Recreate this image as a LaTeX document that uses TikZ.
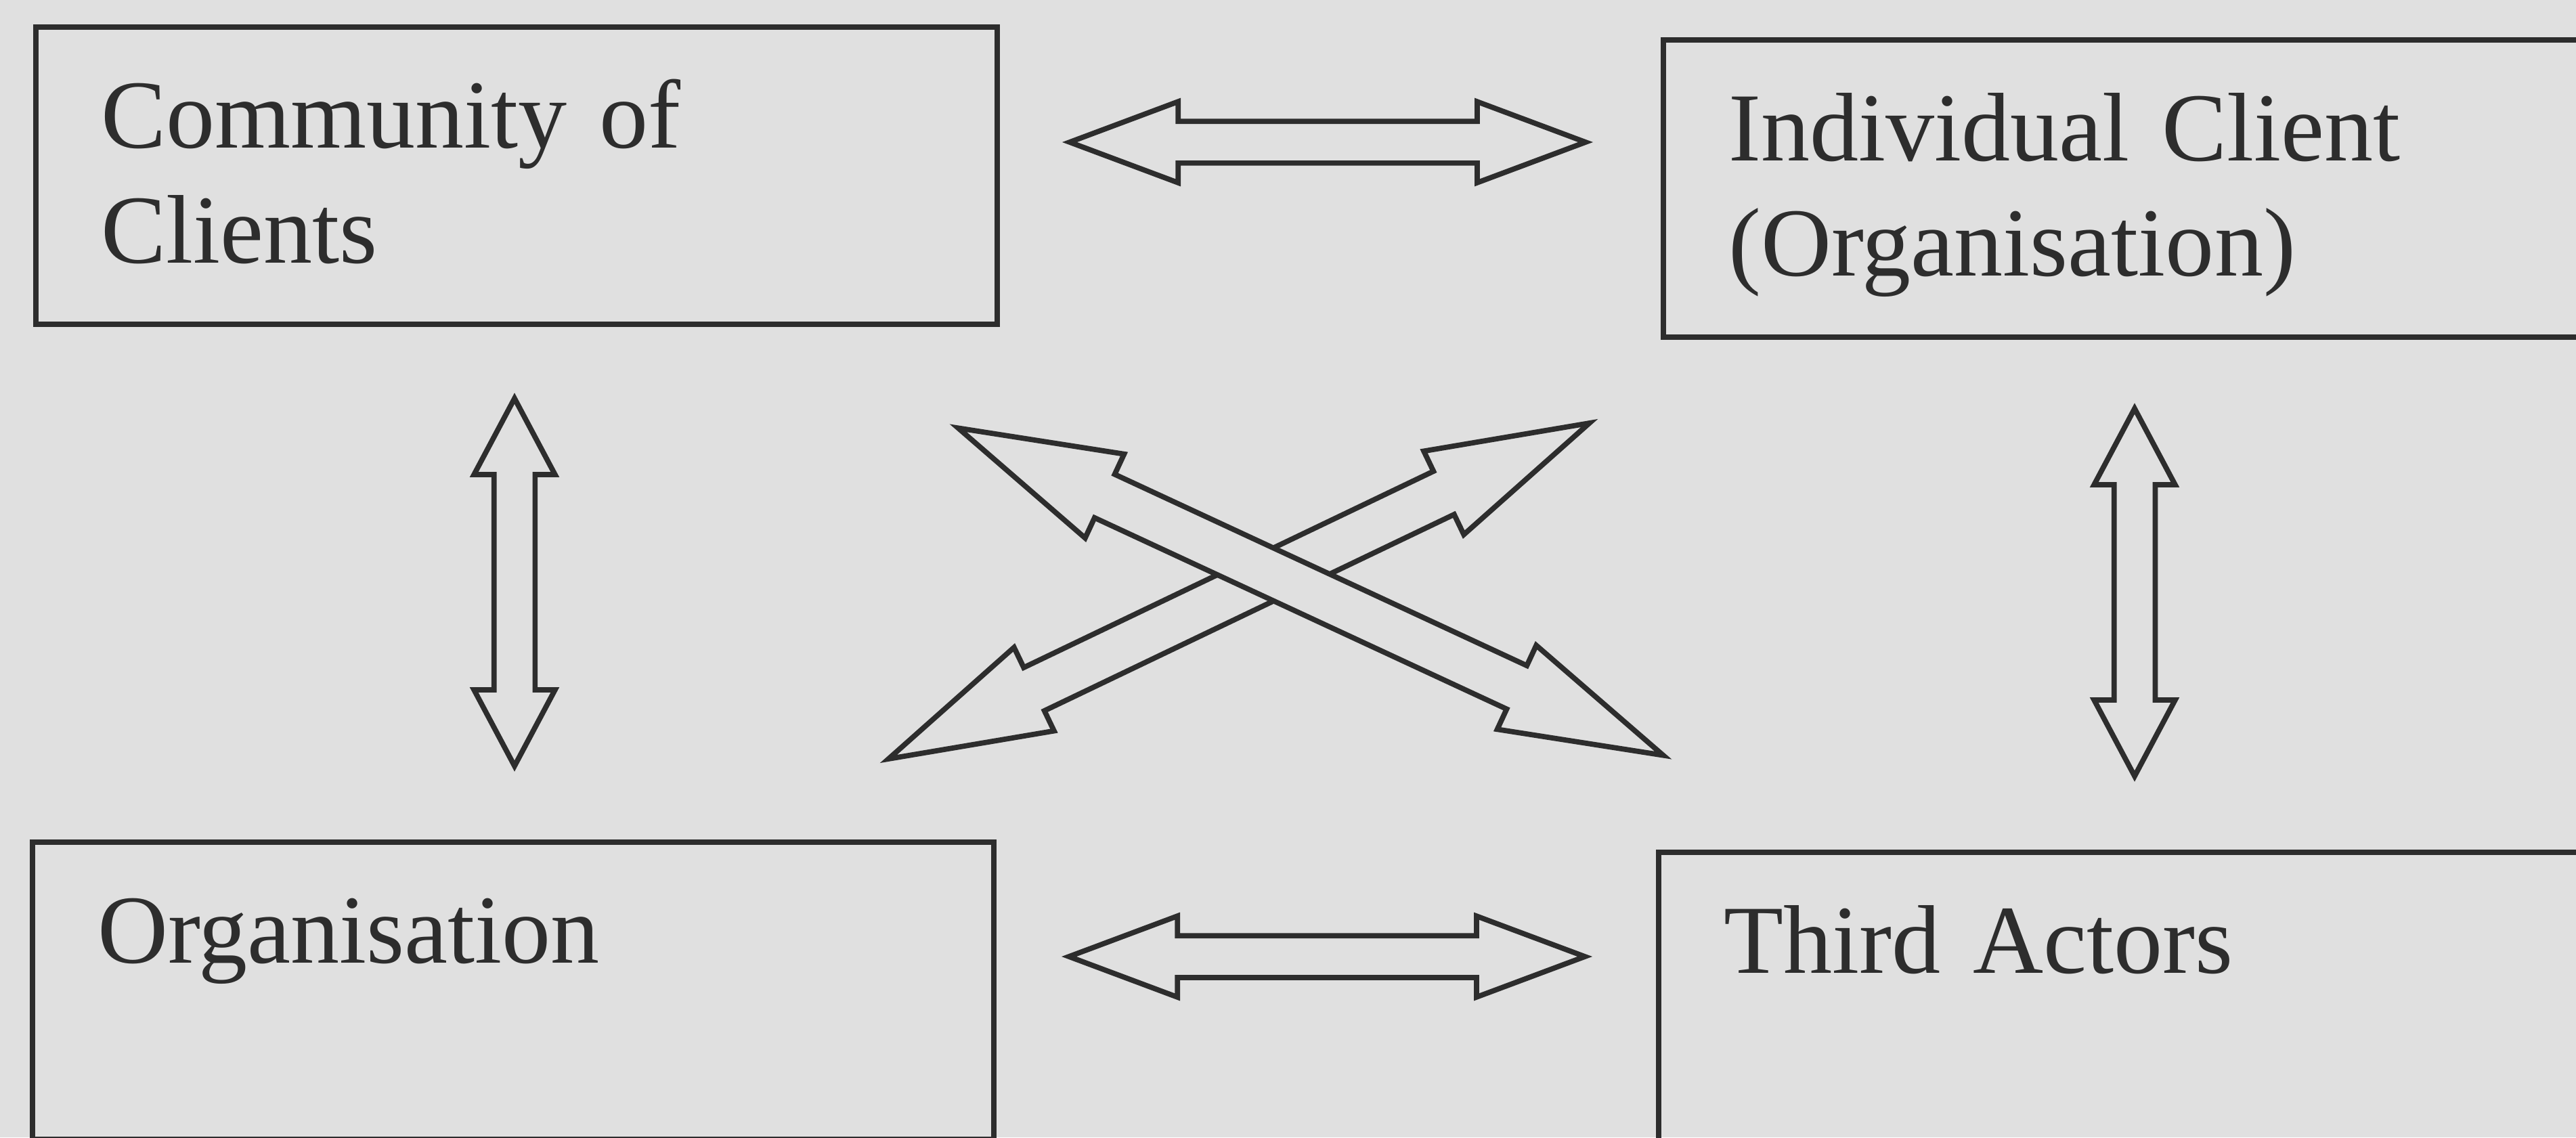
\documentclass[tikz,border=0pt]{standalone}
\usepackage{fontspec}
\setmainfont{Liberation Serif}
\usetikzlibrary{shapes.arrows}
\definecolor{paper}{RGB}{224,224,224}
\definecolor{ink}{RGB}{45,45,45}

\begin{document}
\begin{tikzpicture}[
    actor/.style={rectangle, draw=ink, line width=1.2pt, anchor=north west,
        align=left, text width=6.14cm, inner xsep=0.48cm, inner ysep=0pt,
        text height=0.89cm, text depth=1.305cm, text=ink,
        font=\fontsize{20.5}{24.2}\selectfont},
    link/.style={double arrow, draw=ink, fill=paper, line width=1.1pt,
        inner sep=0pt, text depth=0pt},
    flat/.style={link, text height=0.27cm, minimum width=0.56cm,
        double arrow head extend=0.145cm, double arrow tip angle=41,
        minimum height=3.81cm},
    upright/.style={link, rotate=90, text height=0.265cm, minimum width=0.56cm,
        double arrow head extend=0.1475cm, double arrow tip angle=56,
        minimum height=2.715cm},
    slant/.style={link, text height=0.315cm, minimum width=0.645cm,
        double arrow head extend=0.165cm, double arrow tip angle=32,
        minimum height=5.74cm}
]

\useasboundingbox (0,0) rectangle (19.025,-8.4);
\fill[paper] (0,0) rectangle (19.025,-8.4);
\clip (0,0) rectangle (19.025,-8.4);

% actors
\node[actor] (comm)  at (0.245,-0.18)  {Community of\\Clients};
\node[actor] (indiv) at (12.265,-0.275) {Individual Client\\(Organisation)};
\node[actor] (org)   at (0.22,-6.2)    {Organisation};
\node[actor] (third) at (12.23,-6.275) {Third Actors};

% horizontal links
\node[flat] (ci) at (9.805,-1.05)  {};
\node[flat] (ot) at (9.8,-7.065)   {};

% vertical links
\node[upright] (co) at (3.8,-4.3)    {};
\node[upright] (it) at (15.765,-4.375) {};

% crossing links
\node[slant, rotate=25.6]  (oi) at (9.15,-4.365) {};
\node[slant, rotate=-24.9] (ct) at (9.68,-4.37)  {};

\end{tikzpicture}
\end{document}
